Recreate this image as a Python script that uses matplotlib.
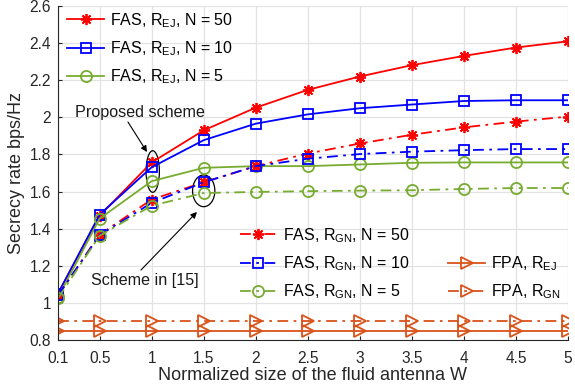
import matplotlib
matplotlib.use("Agg")
import matplotlib.pyplot as plt
from matplotlib.patches import Ellipse

plt.rcParams['font.family'] = ['Liberation Sans', 'DejaVu Sans']
plt.rcParams['mathtext.fontset'] = 'custom'
plt.rcParams['mathtext.rm'] = 'Liberation Sans'
plt.rcParams['mathtext.it'] = 'Liberation Sans:italic'

# data
W = [0.1, 0.5, 1, 1.5, 2, 2.5, 3, 3.5, 4, 4.5, 5]
ej_50 = [1.05, 1.47, 1.757, 1.930, 2.052, 2.148, 2.220, 2.281, 2.331, 2.376, 2.410]
ej_10 = [1.05, 1.476, 1.731, 1.877, 1.966, 2.016, 2.049, 2.069, 2.088, 2.092, 2.092]
ej_5 = [1.03, 1.454, 1.656, 1.728, 1.737, 1.737, 1.746, 1.755, 1.757, 1.757, 1.757]
gn_50 = [1.04, 1.368, 1.557, 1.650, 1.737, 1.805, 1.859, 1.906, 1.946, 1.977, 2.004]
gn_10 = [1.04, 1.366, 1.539, 1.650, 1.737, 1.777, 1.802, 1.815, 1.823, 1.829, 1.829]
gn_5 = [1.025, 1.362, 1.524, 1.592, 1.598, 1.602, 1.605, 1.607, 1.614, 1.619, 1.619]
fpa_ej = [0.85] * 11
fpa_gn = [0.90] * 11

RED = '#ff0000'
BLUE = '#0000ff'
GREEN = '#77ac30'
ORANGE = '#d95319'
DD = (0, (6, 3, 1.5, 3))  # matlab-ish dash-dot
STAR = (8, 2, 0)

fig = plt.figure(figsize=(5.75, 3.92), dpi=100)
ax = fig.add_axes([58 / 575, 52 / 392, 510 / 575, 334 / 392])

lw = 1.3
l1, = ax.plot(W, ej_50, '-', color=RED, marker=STAR, ms=8, mew=1.3, lw=lw)
l2, = ax.plot(W, ej_10, '-', color=BLUE, marker='s', ms=6.5, mfc='none', mew=1.3, lw=lw)
l3, = ax.plot(W, ej_5, '-', color=GREEN, marker='o', ms=8, mfc='none', mew=1.3, lw=lw)
l4, = ax.plot(W, gn_50, linestyle=DD, color=RED, marker=STAR, ms=8, mew=1.3, lw=lw)
l5, = ax.plot(W, gn_10, linestyle=DD, color=BLUE, marker='s', ms=6.5, mfc='none', mew=1.3, lw=lw)
l6, = ax.plot(W, gn_5, linestyle=DD, color=GREEN, marker='o', ms=8, mfc='none', mew=1.3, lw=lw)
l7, = ax.plot(W, fpa_ej, '-', color=ORANGE, marker='>', ms=9, mfc='none', mew=1.3, lw=lw)
l8, = ax.plot(W, fpa_gn, linestyle=DD, color=ORANGE, marker='>', ms=9, mfc='none', mew=1.3, lw=lw)

ax.set_xlim(0.1, 5)
ax.set_ylim(0.8, 2.6)
ax.set_xticks(W)
ax.set_xticklabels(['0.1', '0.5', '1', '1.5', '2', '2.5', '3', '3.5', '4', '4.5', '5'])
ax.set_yticks([0.8, 1, 1.2, 1.4, 1.6, 1.8, 2, 2.2, 2.4, 2.6])
ax.set_yticklabels(['0.8', '1', '1.2', '1.4', '1.6', '1.8', '2', '2.2', '2.4', '2.6'])
ax.grid(True, color='#e3e3e3', lw=0.9)
ax.set_axisbelow(True)
ax.spines['top'].set_visible(False)
ax.spines['right'].set_visible(False)
for s in ['left', 'bottom']:
    ax.spines[s].set_color('#262626')
ax.tick_params(direction='in', length=3, labelsize=11.2, colors='#262626')
ax.tick_params(axis='x', pad=8)
ax.tick_params(axis='y', pad=5)
ax.set_xlabel('Normalized size of the fluid antenna W', fontsize=13, color='#262626', labelpad=1)
ax.set_ylabel('Secrecy rate bps/Hz', fontsize=13, color='#262626', labelpad=3)

leg_kw = dict(frameon=False, fontsize=11.5, handlelength=2.3, handletextpad=0.4,
              borderpad=0, borderaxespad=0, labelspacing=0.6)
leg1 = ax.legend([l1, l2, l3],
                 [r'FAS, R$_{\mathrm{EJ}}$, N = 50', r'FAS, R$_{\mathrm{EJ}}$, N = 10',
                  r'FAS, R$_{\mathrm{EJ}}$, N = 5'],
                 loc='upper left', bbox_to_anchor=(0.018, 0.985), **leg_kw)
ax.add_artist(leg1)
leg2 = ax.legend([l4, l5, l6],
                 [r'FAS, R$_{\mathrm{GN}}$, N = 50', r'FAS, R$_{\mathrm{GN}}$, N = 10',
                  r'FAS, R$_{\mathrm{GN}}$, N = 5'],
                 loc='lower left', bbox_to_anchor=(0.357, 0.116), **leg_kw)
ax.add_artist(leg2)
leg3 = ax.legend([l7, l8], [r'FPA, R$_{\mathrm{EJ}}$', r'FPA, R$_{\mathrm{GN}}$'],
                 loc='lower left', bbox_to_anchor=(0.765, 0.116), **leg_kw)

# annotations
ax.add_patch(Ellipse((1.01, 1.708), 0.128, 0.224, fill=False, ec='black', lw=0.9))
ax.add_patch(Ellipse((1.5, 1.604), 0.214, 0.171, fill=False, ec='black', lw=0.9))
arrow = dict(arrowstyle='-|>', color='black', lw=0.8, mutation_scale=9, shrinkA=0, shrinkB=0)
ax.text(0.888, 2.024, 'Proposed scheme', ha='center', va='center', fontsize=11.6, color='#1a1a1a')
ax.annotate('', xy=(0.955, 1.813), xytext=(0.772, 1.975), arrowprops=arrow)
ax.text(0.936, 1.123, 'Scheme in [15]', ha='center', va='center', fontsize=11.6, color='#1a1a1a')
ax.annotate('', xy=(1.435, 1.49), xytext=(0.897, 1.177), arrowprops=arrow)

fig.savefig('out.png', dpi=100)
